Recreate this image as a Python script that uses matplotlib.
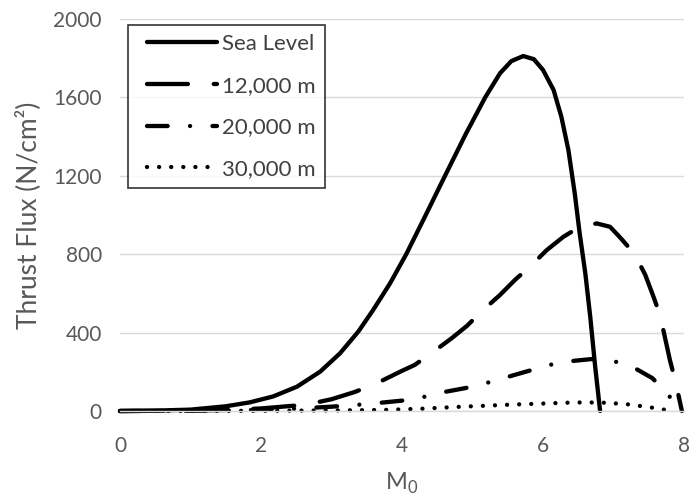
import matplotlib
matplotlib.use("Agg")
import matplotlib.pyplot as plt
import numpy as np
from matplotlib.legend_handler import HandlerLine2D

plt.rcParams['font.family'] = ['Lato', 'DejaVu Sans']
plt.rcParams['mathtext.fontset'] = 'custom'
plt.rcParams['mathtext.rm'] = 'Lato'

# Data
x_sea = [0, 0.5, 1.0, 1.5, 1.84, 2.17, 2.51, 2.84, 3.12, 3.38, 3.59, 3.83, 4.06, 4.33, 4.61, 4.9, 5.18, 5.39, 5.55, 5.72, 5.87, 6.0, 6.15, 6.26, 6.36, 6.45, 6.52, 6.6, 6.67, 6.74, 6.81]
y_sea = [0, 2, 7, 24, 44, 74, 124, 201, 294, 405, 515, 651, 800, 995, 1200, 1410, 1600, 1723, 1785, 1811, 1795, 1740, 1638, 1502, 1332, 1111, 907, 703, 481, 226, 0]

x_12k = [0, 1.0, 1.5, 2.0, 2.5, 2.74, 3.0, 3.33, 3.65, 4.0, 4.18, 4.44, 4.7, 4.92, 5.15, 5.39, 5.6, 5.84, 6.05, 6.29, 6.5, 6.76, 6.95, 7.1, 7.3, 7.45, 7.56, 7.66, 7.8, 7.88, 7.97]
y_12k = [0, 2, 5, 13, 28, 40, 60, 97, 143, 205, 235, 301, 370, 434, 515, 592, 668, 745, 820, 889, 935, 957, 940, 883, 800, 695, 590, 490, 260, 150, 0]

x_20k = [0, 1.0, 1.5, 2.0, 2.5, 3.0, 3.5, 4.0, 4.3, 4.6, 4.9, 5.2, 5.51, 5.79, 6.09, 6.41, 6.69, 6.99, 7.15, 7.3, 7.55, 7.77, 7.93]
y_20k = [0, 1, 3, 6, 12, 22, 35, 53, 71, 97, 117, 143, 175, 204, 235, 255, 265, 255, 240, 219, 168, 88, 0]

x_30k = [0, 1.0, 2.0, 2.5, 3.0, 3.4, 3.8, 4.3, 4.85, 5.2, 5.5, 6.0, 6.3, 6.6, 6.9, 7.2, 7.5, 7.7, 7.85]
y_30k = [0, 0, 1, 2, 3, 4, 6, 12, 22, 27, 32, 38, 42, 44, 42, 34, 20, 8, 0]

labels = ['Sea Level', '12,000 m', '20,000 m', '30,000 m']
x_ticks = [0, 2, 4, 6, 8]
y_ticks = [0, 400, 800, 1200, 1600, 2000]


class OffsetHandler(HandlerLine2D):
    def get_xdata(self, legend, xdescent, ydescent, width, height, fontsize):
        xd, xm = super().get_xdata(legend, xdescent, ydescent, width, height, fontsize)
        xd = np.asarray(xd, dtype=float)
        xd[0] += 7.0
        return xd, xm


fig = plt.figure(figsize=(6.95, 4.99), dpi=100)
ax = fig.add_axes([120/695, 1-411/499, 564/695, 392/499])

lw = 3.1
common = dict(color='black', lw=lw, solid_capstyle='round', dash_capstyle='round', clip_on=False)
ax.plot(x_sea, y_sea, ls='-', label=labels[0], **common)
ax.plot(x_12k, y_12k, ls=(0, (9.5, 6.0)), label=labels[1], **common)
ax.plot(x_20k, y_20k, ls=(0, (4.8, 5.2, 0.01, 5.2)), label=labels[2], **common)
ax.plot(x_30k, y_30k, ls=(0, (0.01, 2.8)), label=labels[3], **common)

ax.set_xlim(0, 8)
ax.set_ylim(0, 2000)
ax.set_xticks(x_ticks)
ax.set_yticks(y_ticks)
ax.tick_params(axis='both', length=0, labelsize=15, labelcolor='#595959')
ax.tick_params(axis='x', pad=18)
ax.tick_params(axis='y', pad=13)
ax.yaxis.grid(True, color='#d9d9d9', lw=1.0)
ax.set_axisbelow(True)
for s in ['top', 'right', 'left']:
    ax.spines[s].set_visible(False)
ax.spines['bottom'].set_color('#d9d9d9')
ax.spines['bottom'].set_linewidth(1.0)

ax.set_xlabel(r'M$_\mathregular{0}$', fontsize=17, color='#595959', labelpad=11)
ax.set_ylabel('Thrust Flux (N/cm\u00b2)', fontsize=19, color='#595959', labelpad=9)

leg = ax.legend(loc='upper left', bbox_to_anchor=(0.014, 0.985), frameon=True, fancybox=False,
                edgecolor='black', fontsize=16, handlelength=3.6, handletextpad=0.2,
                labelspacing=0.97, borderpad=0.42, borderaxespad=0,
                handler_map={matplotlib.lines.Line2D: OffsetHandler()})
leg.get_frame().set_linewidth(1.2)
for t in leg.get_texts():
    t.set_color('#404040')

fig.savefig('out.png', dpi=100)
